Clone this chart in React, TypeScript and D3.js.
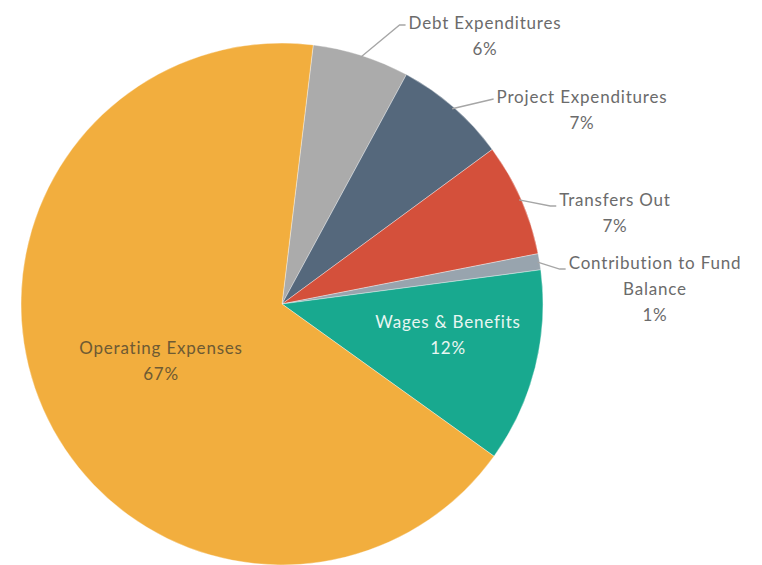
import { useEffect, useRef } from "react";
import * as d3 from "d3";

// slice order, clockwise starting just right of 12 o'clock
const CATEGORIES = [
  "Debt Expenditures",
  "Project Expenditures",
  "Transfers Out",
  "Contribution to Fund Balance",
  "Wages & Benefits",
  "Operating Expenses",
];
const VALUES = [6, 7, 7, 1, 12, 67];
const PCT_LABELS = ["6%", "7%", "7%", "1%", "12%", "67%"];
const LABEL_LINES = [
  ["Debt Expenditures"],
  ["Project Expenditures"],
  ["Transfers Out"],
  ["Contribution to Fund", "Balance"],
  ["Wages & Benefits"],
  ["Operating Expenses"],
];
const COLORS = ["#ababab", "#55687c", "#d4503b", "#98a4ae", "#18a98f", "#f2ae3e"];

const W = 762;
const H = 565;
const CX = 282;
const CY = 304;
const R = 261;
const START = 0.12; // radians clockwise from top

// label anchor (center of first line)
const LABEL_POS: [number, number][] = [
  [485, 23],
  [582, 97],
  [615, 200],
  [655, 263],
  [448, 322],
  [161, 348],
];
const INSIDE = [false, false, false, false, true, true];

export default function App() {
  const svgRef = useRef<SVGSVGElement | null>(null);

  useEffect(() => {
    const svg = svgRef.current;
    if (!svg) return;
    svg.innerHTML = "";

    const root = d3.select(svg).attr("width", W).attr("height", H);

    const pie = d3
      .pie<number>()
      .sort(null)
      .value((d) => d)
      .startAngle(START)
      .endAngle(START + Math.PI * 2);
    const arcs = pie(VALUES);

    const arc = d3.arc<d3.PieArcDatum<number>>().innerRadius(0).outerRadius(R);

    const g = root.append("g").attr("transform", `translate(${CX},${CY})`);
    g.selectAll("path")
      .data(arcs)
      .join("path")
      .attr("d", arc)
      .attr("fill", (_, i) => COLORS[i])
      .attr("stroke", "#ffffff")
      .attr("stroke-opacity", 0.35)
      .attr("stroke-width", 1);

    const leaderG = root.append("g");

    // labels
    const lg = root.append("g").style("font-family", "Lato, 'Open Sans', sans-serif");
    const firstWidths: number[] = [];
    CATEGORIES.forEach((_, i) => {
      const [lx, ly] = LABEL_POS[i];
      const fill = i === 4 ? "#e9f6f2" : i === 5 ? "#6e5a33" : "#6b6b6b";
      const lines = [...LABEL_LINES[i], PCT_LABELS[i]];
      const t = lg
        .append("text")
        .attr("text-anchor", "middle")
        .attr("fill", fill)
        .style("font-size", "17px")
        .style("letter-spacing", "0.8px");
      let first: SVGTSpanElement | null = null;
      lines.forEach((line, k) => {
        const ts = t
          .append("tspan")
          .attr("x", lx)
          .attr("y", ly + 6 + k * 26)
          .text(line);
        if (k === 0) first = ts.node();
      });
      firstWidths.push(first ? (first as SVGTSpanElement).getComputedTextLength() : 0);
    });

    // leader lines for outside labels
    const leaders: [number, number][][] = [];
    arcs.forEach((a, i) => {
      if (INSIDE[i]) return;
      const [lx, ly] = LABEL_POS[i];
      const mid = (a.startAngle + a.endAngle) / 2;
      const ex = CX + Math.sin(mid) * (R - 2);
      const ey = CY - Math.cos(mid) * (R - 2);
      const tx = lx - firstWidths[i] / 2 - 3;
      const pts: [number, number][] =
        i === 0
          ? [[ex, ey], [tx - 6, ly + 2], [tx, ly + 2]]
          : i === 1
          ? [[ex, ey], [tx, ly + 2]]
          : [[ex, ey], [tx - 6, ly + 6], [tx, ly + 6]];
      leaders.push(pts);
    });

    leaderG
      .selectAll("polyline")
      .data(leaders)
      .join("polyline")
      .attr("points", (d) => d.map((p) => p.join(",")).join(" "))
      .attr("fill", "none")
      .attr("stroke", "#a6a6a6")
      .attr("stroke-width", 1.3);
  }, []);

  return (
    <div style={{ position: "absolute", left: 0, top: 0, background: "#fff" }}>
      <svg ref={svgRef} role="img" aria-label="Expenditure breakdown pie chart" />
    </div>
  );
}
